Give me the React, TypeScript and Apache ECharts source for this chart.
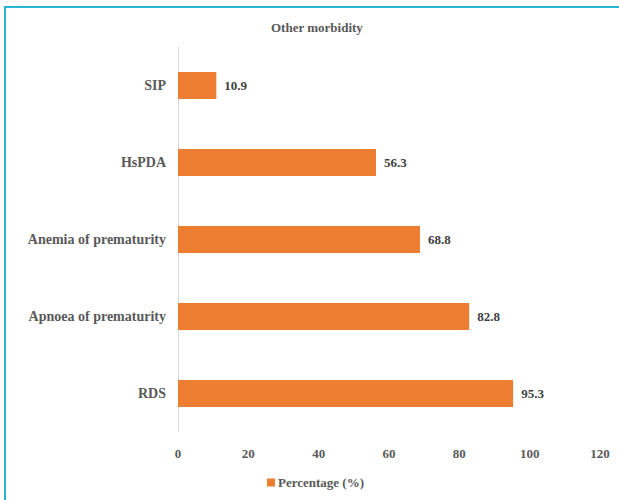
import React, { useEffect, useRef } from "react";
import * as echarts from "echarts";

const categories = ["RDS", "Apnoea of prematurity", "Anemia of prematurity", "HsPDA", "SIP"];
const values = [95.3, 82.8, 68.8, 56.3, 10.9];
const seriesName = "Percentage (%)";
const titleText = "Other morbidity";

export default function App() {
  const ref = useRef<HTMLDivElement>(null);
  useEffect(() => {
    const chart = echarts.init(ref.current!, null, { renderer: "svg" });
    const font = "Liberation Serif";
    chart.setOption({
      animation: false,
      textStyle: { fontFamily: font },
      title: {
        text: titleText,
        left: 266,
        top: 16,
        textStyle: { fontFamily: font, fontSize: 13, fontWeight: "bold", color: "#595959" },
      },
      legend: {
        bottom: 6,
        left: 262,
        itemWidth: 8,
        itemHeight: 8,
        icon: "rect",
        itemGap: 4,
        textStyle: { fontFamily: font, fontSize: 13, fontWeight: "bold", color: "#595959", padding: [0, 0, 0, -2] },
        data: [seriesName],
      },
      grid: { left: 178, right: 19, top: 47, bottom: 68, containLabel: false },
      xAxis: {
        type: "value",
        min: 0,
        max: 120,
        interval: 20,
        axisLine: { show: false },
        axisTick: { show: false },
        splitLine: { show: false },
        axisLabel: { fontFamily: font, fontSize: 13, fontWeight: "bold", color: "#595959", margin: 15 },
      },
      yAxis: {
        type: "category",
        data: categories,
        axisLine: { show: true, lineStyle: { color: "#d9d9d9" } },
        axisTick: { show: false },
        axisLabel: { fontFamily: font, fontSize: 14, fontWeight: "bold", color: "#595959", margin: 12 },
      },
      series: [
        {
          name: seriesName,
          type: "bar",
          data: values,
          barWidth: 27,
          itemStyle: { color: "#ED7D31" },
          label: {
            show: true,
            position: "right",
            distance: 8,
            fontFamily: font,
            fontSize: 13,
            fontWeight: "bold",
            color: "#404040",
          },
        },
      ],
    });
    return () => chart.dispose();
  }, []);
  return (
    <div style={{ position: "fixed", left: 0, top: 0, width: 619, height: 500, background: "#fff" }}>
      <div
        style={{
          position: "absolute",
          left: 4,
          top: 6,
          right: -4,
          bottom: -4,
          borderLeft: "2px solid #29b3d4",
          borderTop: "2px solid #29b3d4",
        }}
      />
      <div ref={ref} style={{ position: "absolute", left: 0, top: 0, width: 619, height: 500 }} />
    </div>
  );
}
